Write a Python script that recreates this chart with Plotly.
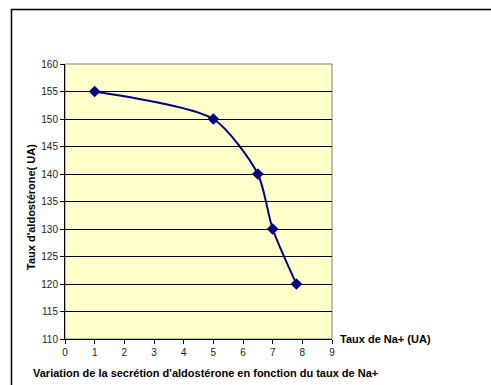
import plotly.graph_objects as go

na_levels = [1, 5, 6.5, 7, 7.8]
aldosterone = [155, 150, 140, 130, 120]
x_ticks = [0, 1, 2, 3, 4, 5, 6, 7, 8, 9]
y_ticks = [110, 115, 120, 125, 130, 135, 140, 145, 150, 155, 160]

W, H = 491, 385
L, R, T, B = 65, 159, 64, 46
pw = W - L - R
ph = H - T - B

fig = go.Figure()
fig.add_trace(go.Scatter(
    x=na_levels, y=aldosterone, mode="lines+markers",
    line=dict(color="#000080", width=2, shape="spline", smoothing=0.7),
    marker=dict(symbol="diamond", size=9, color="#000080"),
    showlegend=False,
))

font = "Liberation Sans, Arial, sans-serif"
fig.update_layout(
    width=W, height=H,
    margin=dict(l=L, r=R, t=T, b=B),
    paper_bgcolor="white",
    plot_bgcolor="#FFFFCC",
    font=dict(family=font, size=10, color="#222"),
    xaxis=dict(range=[0, 9], tickvals=x_ticks, ticks="outside", ticklen=4,
               tickcolor="black", showline=True, linecolor="black", linewidth=1,
               showgrid=False, zeroline=False, mirror=False),
    yaxis=dict(range=[110, 160], tickvals=y_ticks, ticks="outside", ticklen=4,
               tickcolor="black", showline=True, linecolor="black", linewidth=1,
               showgrid=True, gridcolor="black", gridwidth=1, zeroline=False),
    shapes=[
        dict(type="rect", xref="paper", yref="paper", x0=0, x1=1, y0=0, y1=1,
             line=dict(color="#808080", width=1), layer="below"),
        dict(type="rect", xref="paper", yref="paper",
             x0=(11.5 - L) / pw, x1=(W + 5 - L) / pw,
             y0=-(H + 5 - (T + ph)) / ph, y1=1 + (T - 9.5) / ph,
             line=dict(color="black", width=1.5)),
    ],
    annotations=[
        dict(text="<b>Taux d'aldostérone( UA)</b>", xref="paper", yref="paper",
             x=(31 - L) / pw, y=1 - (207 - T) / ph, textangle=-90, showarrow=False,
             font=dict(size=11, color="black", family=font), xanchor="center", yanchor="middle"),
        dict(text="<b>Taux de Na+ (UA)</b>", xref="paper", yref="paper",
             x=1, xshift=6, y=0, xanchor="left", yanchor="middle", showarrow=False,
             font=dict(size=11, color="black", family=font)),
        dict(text="<b>Variation de la secrétion d'aldostérone en fonction du taux de Na+</b>",
             xref="paper", yref="paper", x=(31 - L) / pw, y=-(373 - (T + ph)) / ph,
             xanchor="left", yanchor="middle", showarrow=False,
             font=dict(size=11, color="black", family=font)),
    ],
)

fig.write_html("out.html", config={"displayModeBar": False},
               post_script="document.body.style.margin='0';document.body.style.overflow='hidden';")
